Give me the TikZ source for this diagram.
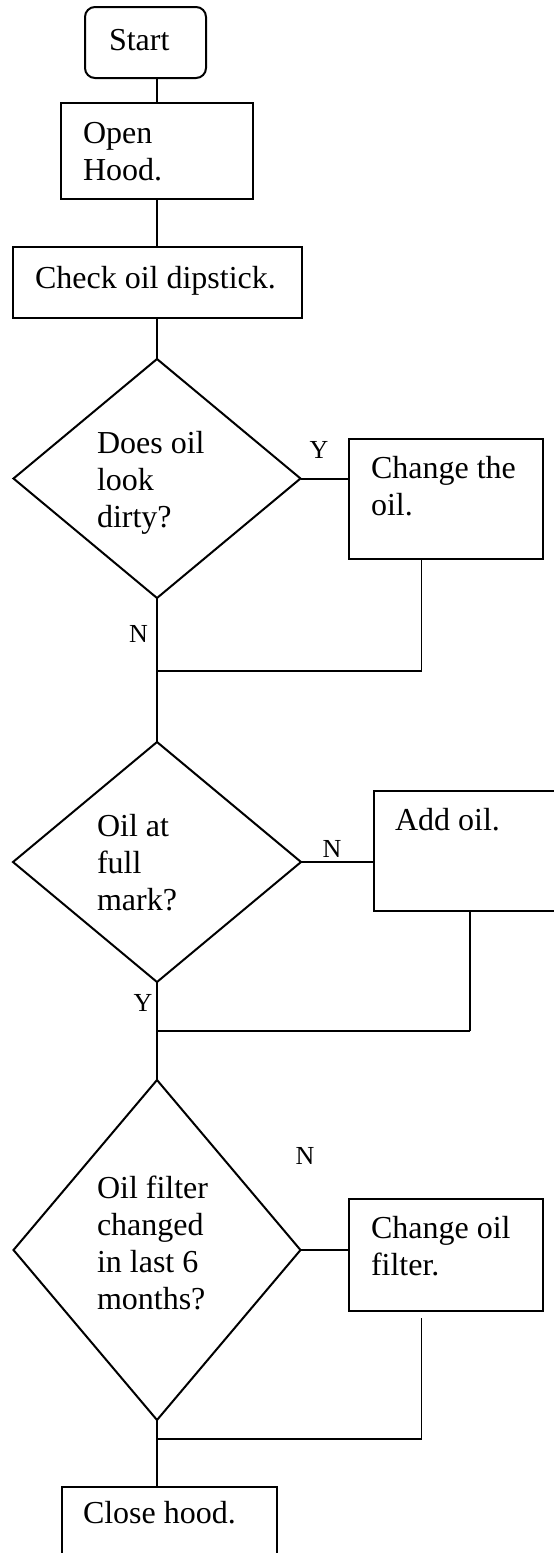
\documentclass[tikz,border=0pt]{standalone}
\usepackage{fontspec}
\setmainfont{Liberation Serif}
\usetikzlibrary{shapes.geometric}
\begin{document}
\begin{tikzpicture}[x=1pt,y=-1pt,
  line width=2pt,
  box/.style={draw,rectangle,inner sep=0pt,outer sep=0pt},
  dec/.style={draw,diamond,inner sep=0pt,outer sep=0pt},
  txt/.style={anchor=base west,inner sep=0pt,align=left,font=\fontsize{32}{37}\selectfont},
  yn/.style={inner sep=0pt,font=\fontsize{26}{30}\selectfont},
  thinline/.style={line width=1.4pt}]
\useasboundingbox (0,0) rectangle (554,1553);
% shapes
\node[box,rounded corners=10pt,minimum width=121pt,minimum height=71pt] (start) at (145.5,42.5) {};
\node[box,minimum width=192pt,minimum height=96pt] (open) at (157,151) {};
\node[box,minimum width=289pt,minimum height=71pt] (check) at (157,282.5) {};
\node[dec,minimum width=287pt,minimum height=239pt] (d1) at (157,478.5) {};
\node[box,minimum width=194pt,minimum height=120pt] (c1) at (446,499) {};
\node[dec,minimum width=288pt,minimum height=240pt] (d2) at (157,862) {};
\node[box,minimum width=186pt,minimum height=120pt] (add) at (466.5,851) {};
\node[dec,minimum width=287pt,minimum height=340pt] (d3) at (157,1250) {};
\node[box,minimum width=194pt,minimum height=112pt] (c3) at (446,1255) {};
\node[box,minimum width=215pt,minimum height=76pt] (close) at (169.5,1525) {};
% texts (base anchor = baseline of last line)
\node[txt] (tstart) at (108,50) {Start};
\node[txt] (topen) at (82,180) {Open\\Hood.};
\node[txt] (tcheck) at (34,288) {Check oil dipstick.};
\node[txt] (td1) at (96,527) {Does oil\\look\\dirty?};
\node[txt] (tc1) at (370,515) {Change the\\oil.};
\node[txt] (td2) at (96,910) {Oil at\\full\\mark?};
\node[txt] (tadd) at (394,830) {Add oil.};
\node[txt] (td3) at (96,1309) {Oil filter\\changed\\in last 6\\months?};
\node[txt] (tc3) at (370,1275) {Change oil\\filter.};
\node[txt] (tclose) at (82,1523) {Close hood.};
% labels
\node[yn] (y1) at (319,450) {Y};
\node[yn] (n1) at (138.5,634) {N};
\node[yn] (n2) at (332,849) {N};
\node[yn] (y2) at (143,1003) {Y};
\node[yn] (n3) at (305,1156) {N};
% junctions
\coordinate (m1) at (421.5,671);
\coordinate (m2) at (470,1031);
\coordinate (m3) at (421.5,1439);
% connectors
\draw (open.north |- start.south) -- (open.north);
\draw (open.south) -- (check.north);
\draw (check.south) -- (d1.north);
\draw (d1.east) -- (d1.east -| c1.west);
\draw[thinline] (m1 |- c1.south) -- (m1);
\draw (m1) -- (m1 -| d1.south);
\draw (d1.south) -- (d2.north);
\draw (d2.east) -- (d2.east -| add.west);
\draw[thinline] (m2 |- add.south) -- (m2);
\draw (m2) -- (m2 -| d2.south);
\draw (d2.south) -- (d3.north);
\draw (d3.east) -- (d3.east -| c3.west);
\draw[thinline] ([yshift=-7pt]m3 |- c3.south) -- (m3);
\draw (m3) -- (m3 -| d3.south);
\draw (d3.south) -- (d3.south |- close.north);
\end{tikzpicture}
\end{document}
